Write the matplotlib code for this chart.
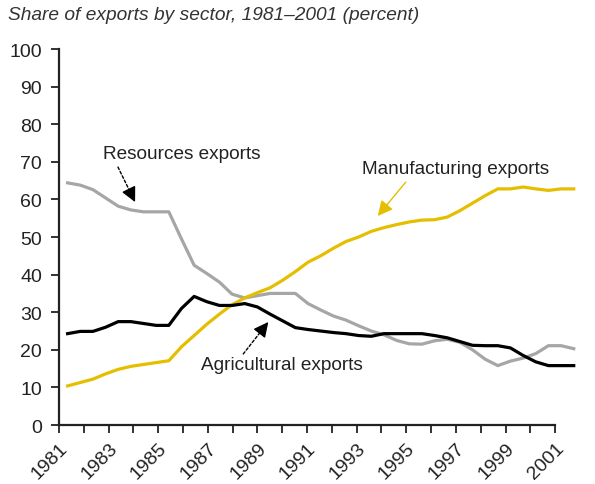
import matplotlib.pyplot as plt
import numpy as np

plt.rcParams['font.family'] = ['Liberation Sans', 'DejaVu Sans']

# half-year sample points (1981 .. 2001)
t = np.linspace(1981.35, 2001.75, 41)

resources = [64.4, 63.8, 62.6, 60.4, 58.2, 57.2, 56.7, 56.7, 56.7, 49.5,
             42.5, 40.3, 38.0, 34.8, 33.8, 34.4, 35.0, 35.0, 35.0, 32.3,
             30.6, 29.0, 27.9, 26.4, 25.0, 24.0, 22.5, 21.6, 21.5, 22.4,
             22.8, 22.0, 20.0, 17.5, 15.8, 17.0, 17.8, 19.0, 21.1, 21.1, 20.3]

agricultural = [24.3, 24.9, 24.9, 26.0, 27.5, 27.5, 27.0, 26.5, 26.5, 31.0,
                34.2, 32.8, 31.8, 31.8, 32.3, 31.4, 29.5, 27.7, 25.9, 25.4,
                25.0, 24.6, 24.3, 23.8, 23.6, 24.3, 24.3, 24.3, 24.3, 23.8,
                23.2, 22.2, 21.2, 21.1, 21.1, 20.5, 18.5, 16.8, 15.8, 15.8, 15.8]

manufacturing = [10.4, 11.3, 12.2, 13.6, 14.8, 15.6, 16.1, 16.6, 17.1, 20.8,
                 23.8, 26.8, 29.5, 32.0, 33.8, 35.2, 36.5, 38.5, 40.8, 43.3,
                 45.0, 47.0, 48.8, 50.0, 51.5, 52.5, 53.3, 54.0, 54.5, 54.6,
                 55.3, 57.0, 59.0, 61.0, 62.8, 62.8, 63.3, 62.8, 62.4, 62.8, 62.8]

years = list(range(1981, 2002))
year_labels = [str(y) if (y - 1981) % 2 == 0 else '' for y in years]

fig = plt.figure(figsize=(5.95, 4.85), dpi=100)
ax = fig.add_axes([0.099, 0.1216, 0.834, 0.7753])

gold = '#E6BE00'
grey = '#A6A6A6'
ax.plot(t, resources, color=grey, lw=2.3, clip_on=False, zorder=3)
ax.plot(t, manufacturing, color=gold, lw=2.3, clip_on=False, zorder=4)
ax.plot(t, agricultural, color='black', lw=2.3, clip_on=False, zorder=5)

ax.set_xlim(1981, 2001)
ax.set_ylim(0, 100)
ax.set_yticks(range(0, 101, 10))
ax.set_xticks(years)
ax.set_xticklabels(year_labels, rotation=45, ha='right', va='top',
                   rotation_mode='anchor')

for s in ['top', 'right']:
    ax.spines[s].set_visible(False)
for s in ['left', 'bottom']:
    ax.spines[s].set_linewidth(1.6)
    ax.spines[s].set_color('#222222')
ax.tick_params(axis='both', length=6, width=1.3, color='#222222',
               labelsize=14, labelcolor='#222222')
ax.tick_params(axis='y', pad=6)
ax.tick_params(axis='x', pad=4)

head = '-|>,head_length=0.9,head_width=0.45'


def pointer(tail, tip, color, dotted):
    # dotted shaft, solid head
    ls = (0, (2, 1.5)) if dotted else '-'
    ax.annotate('', xy=tip, xytext=tail,
                arrowprops=dict(arrowstyle='-', color=color, lw=1, linestyle=ls,
                                shrinkA=0, shrinkB=4))
    mid = (tip[0] + 0.35 * (tail[0] - tip[0]), tip[1] + 0.35 * (tail[1] - tip[1]))
    ax.annotate('', xy=tip, xytext=mid,
                arrowprops=dict(arrowstyle=head, color=color, lw=1,
                                shrinkA=0, shrinkB=0))


ax.text(1985.97, 72.1, 'Resources exports', fontsize=13.7, color='#222222',
        ha='center', va='center')
pointer((1983.38, 68.6), (1984.07, 59.3), 'black', True)

ax.text(1997.0, 68.1, 'Manufacturing exports', fontsize=13.7, color='#222222',
        ha='center', va='center')
pointer((1994.98, 64.6), (1993.85, 55.6), gold, False)

ax.text(1989.97, 16.2, 'Agricultural exports', fontsize=13.7, color='#222222',
        ha='center', va='center')
pointer((1988.43, 18.9), (1989.44, 27.4), 'black', True)

fig.text(0.013, 0.969, 'Share of exports by sector, 1981\u20132001 (percent)',
         fontsize=13.8, style='italic', color='#333333', va='center')

plt.savefig('out.png', dpi=100)
